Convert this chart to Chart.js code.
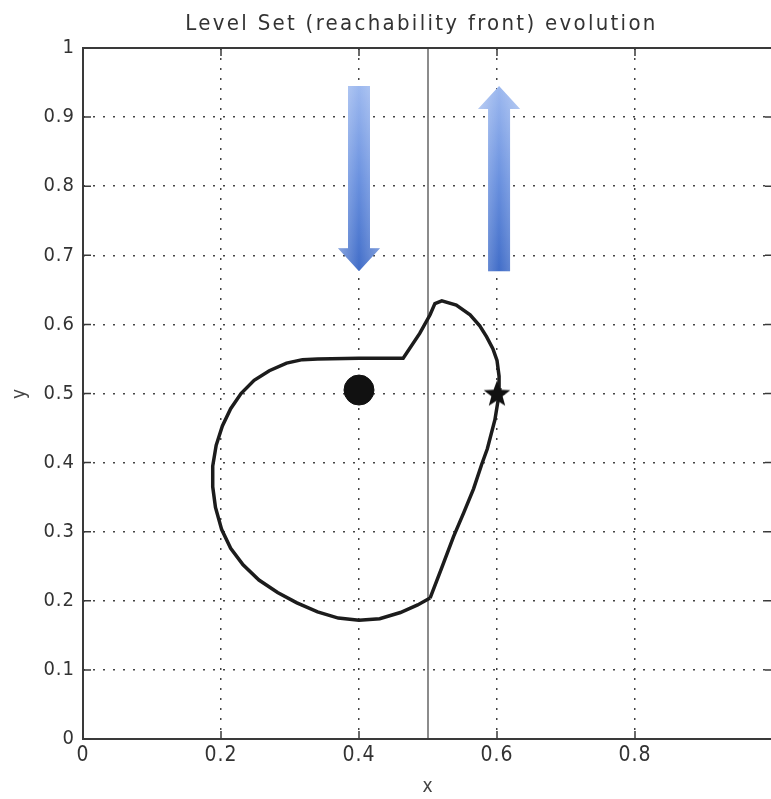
<!DOCTYPE html>
<html>
<head>
<meta charset="utf-8">
<title>Level Set (reachability front) evolution</title>
<script src="https://cdn.jsdelivr.net/npm/chart.js@4"></script>
<style>
  html, body { margin: 0; padding: 0; background: #fff; overflow: hidden; }
  #wrap { width: 776px; height: 799px; position: relative; }
  canvas { display: block; }
</style>
</head>
<body>
<div id="wrap"><canvas id="levelSetChart" width="776" height="799"></canvas></div>
<script>
// Front contour (closed)
var frontX = [0.503, 0.520, 0.537, 0.552, 0.566, 0.578, 0.586, 0.597, 0.604, 0.603,
              0.600, 0.594, 0.585, 0.575, 0.561, 0.541, 0.520, 0.510, 0.503, 0.488,
              0.464, 0.400, 0.340, 0.318, 0.295, 0.270, 0.248, 0.229, 0.214, 0.202,
              0.193, 0.188, 0.188, 0.192, 0.201, 0.214, 0.232, 0.255, 0.282, 0.310,
              0.340, 0.370, 0.400, 0.430, 0.460, 0.485, 0.503];
var frontY = [0.204, 0.248, 0.293, 0.328, 0.362, 0.398, 0.420, 0.462, 0.505, 0.525,
              0.548, 0.565, 0.582, 0.598, 0.614, 0.628, 0.634, 0.630, 0.614, 0.587,
              0.551, 0.551, 0.550, 0.549, 0.544, 0.533, 0.519, 0.500, 0.478, 0.453,
              0.425, 0.395, 0.365, 0.335, 0.303, 0.276, 0.252, 0.230, 0.212, 0.197,
              0.184, 0.175, 0.172, 0.174, 0.183, 0.194, 0.204];

// Start (circle) and target (star)
var startPoint = [0.4, 0.505];
var targetPoint = [0.6, 0.5];

// Vertical divider
var dividerX = 0.5;
var dividerY = [0, 1];

// Arrows: x position, tail y, tip y
var arrowX = [0.4, 0.603];
var arrowFrom = [0.945, 0.677];
var arrowTo = [0.677, 0.945];

// Axis ticks (the x label at 1 falls outside the picture)
var xStep = 0.2;
var yStep = 0.1;
var xHiddenLabels = [1];

var fontFamily = "'Liberation Sans Narrow', 'DejaVu Sans Condensed', Arial, sans-serif";
var axisColor = '#3a3a3a';

function toPoints(xs, ys) {
    var pts = [];
    for (var i = 0; i < xs.length; i++) {
        pts.push({ x: xs[i], y: ys[i] });
    }
    return pts;
}

// Filled five-point star used as point style
function makeStar(size) {
    var c = document.createElement('canvas');
    c.width = size;
    c.height = size;
    var g = c.getContext('2d');
    var cx = size / 2, cy = size / 2 + 1;
    var outer = size / 2 - 1, inner = outer * 0.42;
    g.beginPath();
    for (var i = 0; i < 10; i++) {
        var r = i % 2 === 0 ? outer : inner;
        var a = -Math.PI / 2 + i * Math.PI / 5;
        var px = cx + r * Math.cos(a);
        var py = cy + r * Math.sin(a);
        if (i === 0) g.moveTo(px, py); else g.lineTo(px, py);
    }
    g.closePath();
    g.fillStyle = '#111';
    g.fill();
    return c;
}

// Wider letter spacing for the texts, like the MATLAB export
var spacingPlugin = {
    id: 'spacing',
    beforeDraw: function (chart) {
        chart.ctx.letterSpacing = '1px';
        var tb = chart.titleBlock;
        if (tb && !tb._spaced) {
            var orig = tb.draw;
            tb.draw = function () {
                var ctx = chart.ctx;
                ctx.save();
                ctx.letterSpacing = '2.3px';
                ctx.translate(35, 1);
                orig.apply(tb, arguments);
                ctx.restore();
            };
            tb._spaced = true;
        }
    },
    afterDraw: function (chart) {
        chart.ctx.letterSpacing = '0px';
    }
};

// Draws the blue arrows behind the datasets
var arrowPlugin = {
    id: 'arrows',
    beforeDatasetsDraw: function (chart) {
        var ctx = chart.ctx;
        var xs = chart.scales.x, ys = chart.scales.y;
        var shaftHalf = 11, headHalf = 21, headLen = 23;
        ctx.save();
        for (var i = 0; i < arrowX.length; i++) {
            var x = xs.getPixelForValue(arrowX[i]);
            var yTail = ys.getPixelForValue(arrowFrom[i]);
            var yTip = ys.getPixelForValue(arrowTo[i]);
            var dir = yTip > yTail ? 1 : -1;
            var yBase = yTip - dir * headLen;
            var grad = ctx.createLinearGradient(0, Math.min(yTail, yTip), 0, Math.max(yTail, yTip));
            grad.addColorStop(0, '#9cb8ef');
            grad.addColorStop(0.5, '#6a91df');
            grad.addColorStop(1, '#416dc8');
            ctx.beginPath();
            ctx.moveTo(x - shaftHalf, yTail);
            ctx.lineTo(x + shaftHalf, yTail);
            ctx.lineTo(x + shaftHalf, yBase);
            ctx.lineTo(x + headHalf, yBase);
            ctx.lineTo(x, yTip);
            ctx.lineTo(x - headHalf, yBase);
            ctx.lineTo(x - shaftHalf, yBase);
            ctx.closePath();
            ctx.fillStyle = grad;
            ctx.fill();
            // soft side shading
            var side = ctx.createLinearGradient(x - headHalf, 0, x + headHalf, 0);
            side.addColorStop(0, 'rgba(255,255,255,0.35)');
            side.addColorStop(0.5, 'rgba(255,255,255,0)');
            side.addColorStop(1, 'rgba(255,255,255,0.3)');
            ctx.fillStyle = side;
            ctx.fill();
        }
        ctx.restore();
    }
};

// Box frame and inward tick marks, MATLAB style
var framePlugin = {
    id: 'frame',
    afterDraw: function (chart) {
        var ctx = chart.ctx;
        var a = chart.chartArea;
        var xs = chart.scales.x, ys = chart.scales.y;
        var tick = 8;
        ctx.save();
        ctx.strokeStyle = axisColor;
        ctx.lineWidth = 2;
        ctx.strokeRect(a.left, a.top, a.right - a.left, a.bottom - a.top);
        ctx.lineWidth = 1.5;
        ctx.beginPath();
        xs.ticks.forEach(function (t) {
            var px = xs.getPixelForValue(t.value);
            ctx.moveTo(px, a.bottom);
            ctx.lineTo(px, a.bottom - tick);
            ctx.moveTo(px, a.top);
            ctx.lineTo(px, a.top + tick);
        });
        ys.ticks.forEach(function (t) {
            var py = ys.getPixelForValue(t.value);
            ctx.moveTo(a.left, py);
            ctx.lineTo(a.left + tick, py);
            ctx.moveTo(a.right, py);
            ctx.lineTo(a.right - tick, py);
        });
        ctx.stroke();
        ctx.restore();
    }
};

function tickLabel(value) {
    return String(Math.round(value * 10) / 10);
}

function xTickLabel(value) {
    return xHiddenLabels.indexOf(value) >= 0 ? '' : tickLabel(value);
}

var levelSetChart = new Chart(document.getElementById('levelSetChart').getContext('2d'), {
    type: 'scatter',
    data: {
        datasets: [{
            label: 'target',
            data: [{ x: targetPoint[0], y: targetPoint[1] }],
            pointStyle: makeStar(30),
            pointRadius: 15,
            showLine: false
        }, {
            label: 'start',
            data: [{ x: startPoint[0], y: startPoint[1] }],
            pointStyle: 'circle',
            pointRadius: 15,
            backgroundColor: '#111',
            borderColor: '#111',
            showLine: false
        }, {
            label: 'front',
            data: toPoints(frontX, frontY),
            showLine: true,
            borderColor: '#1c1c1c',
            borderWidth: 3.5,
            pointRadius: 0,
            tension: 0,
            fill: false
        }, {
            label: 'divider',
            data: toPoints([dividerX, dividerX], dividerY),
            showLine: true,
            borderColor: '#8c8c8c',
            borderWidth: 2,
            pointRadius: 0
        }]
    },
    options: {
        responsive: false,
        animation: false,
        layout: { autoPadding: false, padding: { left: 0, right: 3, top: 0, bottom: 0 } },
        plugins: {
            legend: { display: false },
            tooltip: { enabled: false },
            title: {
                display: true,
                text: 'Level Set (reachability front) evolution',
                color: '#333',
                font: { family: fontFamily, size: 22, weight: 'normal' },
                padding: { top: 10, bottom: 11.6 }
            }
        },
        scales: {
            x: {
                type: 'linear',
                min: 0,
                max: 1,
                afterFit: function (scale) {
                    scale.height = 60;
                    scale.paddingLeft = 0;
                    scale.paddingRight = 0;
                },
                ticks: {
                    stepSize: xStep,
                    padding: 4,
                    color: '#333',
                    font: { family: fontFamily, size: 21 },
                    callback: xTickLabel
                },
                grid: { color: '#444', lineWidth: 1.5, drawTicks: false },
                border: { display: false, dash: [2, 8] },
                title: {
                    display: true,
                    text: 'x',
                    color: '#444',
                    font: { family: fontFamily, size: 19 },
                    padding: { top: 0, bottom: 1 }
                }
            },
            y: {
                type: 'linear',
                min: 0,
                max: 1,
                afterFit: function (scale) {
                    scale.width = 83;
                    scale.paddingTop = 0;
                    scale.paddingBottom = 0;
                },
                ticks: {
                    stepSize: yStep,
                    padding: 8,
                    color: '#333',
                    font: { family: fontFamily, size: 20 },
                    callback: tickLabel
                },
                grid: { color: '#444', lineWidth: 1.5, drawTicks: false },
                border: { display: false, dash: [2, 8] },
                title: {
                    display: true,
                    text: 'y',
                    color: '#444',
                    font: { family: fontFamily, size: 19 },
                    padding: { top: 9, bottom: 0 }
                }
            }
        }
    },
    plugins: [spacingPlugin, arrowPlugin, framePlugin]
});
</script>
</body>
</html>
